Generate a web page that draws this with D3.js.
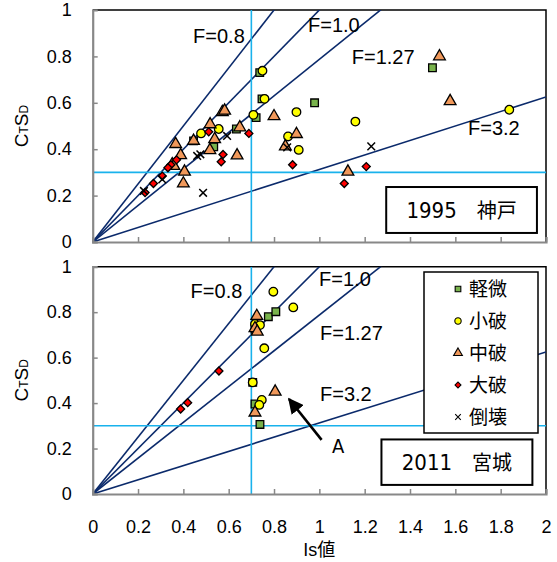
<!DOCTYPE html>
<html>
<head>
<meta charset="utf-8">
<script src="https://cdn.jsdelivr.net/npm/d3@7"></script>
<style>
body { margin: 0; background: #fff; }
text { font-family: "Liberation Sans", Arial, sans-serif; fill: #000; }
.jp { font-family: "Noto Sans CJK JP", sans-serif; }
.narrow { font-family: "Liberation Sans Narrow", "DejaVu Sans Condensed", "Liberation Sans", sans-serif; }
</style>
</head>
<body>
<div id="chart"></div>
<script>
// ticks and reference lines
var xTicks = [0, 0.2, 0.4, 0.6, 0.8, 1, 1.2, 1.4, 1.6, 1.8, 2];
var yTicks = [0, 0.2, 0.4, 0.6, 0.8, 1];
var fValues = [0.8, 1.0, 1.27, 3.2];
var fNames = ["F=0.8", "F=1.0", "F=1.27", "F=3.2"];
var isLimit = 0.7, ctsdLimit = 0.3;
var categories = ["軽微", "小破", "中破", "大破", "倒壊"];

// 1995 神戸  [Is, CtSd]
var kobeKeibi = [[0.737, 0.73], [0.747, 0.617], [0.979, 0.60], [0.721, 0.536], [1.499, 0.751],
    [0.445, 0.436], [0.634, 0.487], [0.534, 0.41]];
var kobeShoha = [[0.749, 0.738], [0.758, 0.617], [0.709, 0.548], [0.899, 0.56], [1.159, 0.519],
    [1.838, 0.57], [0.862, 0.455], [0.909, 0.397], [0.478, 0.468], [0.556, 0.487]];
var kobeChuha = [[1.53, 0.80], [1.577, 0.607], [0.80, 0.542], [0.899, 0.465], [0.85, 0.412],
    [1.126, 0.303], [0.572, 0.56], [0.582, 0.566], [0.518, 0.507], [0.445, 0.436], [0.538, 0.443],
    [0.649, 0.494], [0.366, 0.422], [0.388, 0.374], [0.517, 0.396], [0.637, 0.373], [0.351, 0.335],
    [0.358, 0.328], [0.405, 0.303], [0.40, 0.252]];
var kobeDaiha = [[0.512, 0.475], [0.689, 0.468], [0.575, 0.377], [0.567, 0.346], [0.37, 0.354],
    [0.345, 0.333], [0.332, 0.32], [0.307, 0.284], [0.268, 0.252], [0.231, 0.213], [0.882, 0.333],
    [1.207, 0.325], [1.11, 0.252]];
var kobeTokai = [[0.593, 0.457], [0.461, 0.371], [0.475, 0.378], [0.307, 0.27], [0.226, 0.22],
    [0.487, 0.212], [0.858, 0.408], [1.229, 0.412]];

// 2011 宮城
var miyagiKeibi = [[0.775, 0.78], [0.808, 0.802], [0.706, 0.491], [0.716, 0.396], [0.738, 0.306],
    [0.716, 0.725]];
var miyagiShoha = [[0.797, 0.89], [0.885, 0.821], [0.716, 0.748], [0.738, 0.743], [0.757, 0.641],
    [0.706, 0.491], [0.746, 0.414], [0.735, 0.392]];
var miyagiChuha = [[0.724, 0.783], [0.716, 0.729], [0.726, 0.714], [0.805, 0.45], [0.716, 0.358]];
var miyagiDaiha = [[0.557, 0.541], [0.419, 0.402], [0.388, 0.374]];
var miyagiTokai = [];

var W = 557, H = 562;
var x0 = 92.7, x1 = 546;

var panels = [
    { top: 10, bottom: 242, title: "1995\u3000神戸",
      series: [kobeKeibi, kobeShoha, kobeChuha, kobeDaiha, kobeTokai],
      fLabelPos: [[0.443, 0.858], [0.95, 0.906], [1.143, 0.767], [1.656, 0.461]],
      box: [1.295, 0.237, 1.96, 0.039], xLabels: false },
    { top: 266.7, bottom: 494, title: "2011\u3000宮城",
      series: [miyagiKeibi, miyagiShoha, miyagiChuha, miyagiDaiha, miyagiTokai],
      fLabelPos: [[0.432, 0.864], [0.999, 0.915], [1.003, 0.678], [1.003, 0.41]],
      box: [1.274, 0.24, 1.94, 0.04], xLabels: true }
];

var timesSymbol = d3.symbolTimes || {
    draw: function (ctx, size) {
        var r = Math.sqrt(size) / 2;
        ctx.moveTo(-r, -r); ctx.lineTo(r, r);
        ctx.moveTo(-r, r); ctx.lineTo(r, -r);
    }
};

var markerStyle = [
    { type: d3.symbolSquare, size: 58, fill: "#79B34C", rotate: 0 },
    { type: d3.symbolCircle, size: 58, fill: "#FFFF00", rotate: 0 },
    { type: d3.symbolTriangle, size: 60, fill: "#F0985A", rotate: 0 },
    { type: d3.symbolSquare, size: 32, fill: "#FF0000", rotate: 45 },
    { type: timesSymbol, size: 40, fill: "none", rotate: 0, cross: true }
];

var svg = d3.select("#chart").append("svg")
    .attr("width", W)
    .attr("height", H);

var xScale = d3.scaleLinear().domain([0, 2]).range([x0, x1]);

panels.forEach(function (p, pi) {
    var yScale = d3.scaleLinear().domain([0, 1]).range([p.bottom, p.top]);
    var g = svg.append("g");

    var clipId = "clip" + pi;
    g.append("clipPath").attr("id", clipId)
        .append("rect")
        .attr("x", x0).attr("y", p.top)
        .attr("width", x1 - x0).attr("height", p.bottom - p.top);

    // frame top / right
    g.append("path")
        .attr("d", "M" + x0 + "," + p.top + "H" + x1 + "V" + p.bottom)
        .attr("fill", "none").attr("stroke", "#000").attr("stroke-width", 1.5);

    // F lines
    var lines = g.append("g").attr("clip-path", "url(#" + clipId + ")");
    lines.selectAll("line.f").data(fValues).enter().append("line")
        .attr("x1", xScale(0)).attr("y1", yScale(0))
        .attr("x2", xScale(2)).attr("y2", function (f) { return yScale(2 / f); })
        .attr("stroke", "#0B2A6B").attr("stroke-width", 1.6);

    // criteria lines
    lines.append("line")
        .attr("x1", xScale(isLimit)).attr("x2", xScale(isLimit))
        .attr("y1", yScale(0)).attr("y2", yScale(1))
        .attr("stroke", "#19B2EC").attr("stroke-width", 1.6);
    lines.append("line")
        .attr("x1", xScale(0)).attr("x2", xScale(2))
        .attr("y1", yScale(ctsdLimit)).attr("y2", yScale(ctsdLimit))
        .attr("stroke", "#19B2EC").attr("stroke-width", 1.6);

    // F labels
    g.selectAll("text.flab").data(fNames).enter().append("text")
        .attr("class", "flab")
        .attr("x", function (d, i) { return xScale(p.fLabelPos[i][0]); })
        .attr("y", function (d, i) { return yScale(p.fLabelPos[i][1]); })
        .attr("font-size", 20)
        .text(function (d) { return d; });

    // axes
    var yAxis = d3.axisLeft(yScale).tickValues(yTicks).tickSize(-5).tickPadding(21)
        .tickFormat(d3.format("~g"));
    var yg = g.append("g").attr("transform", "translate(" + x0 + ",0)").call(yAxis);
    var xAxis = d3.axisBottom(xScale).tickValues(xTicks).tickSize(-5).tickPadding(26)
        .tickFormat(d3.format("~g"));
    var xg = g.append("g").attr("transform", "translate(0," + p.bottom + ")").call(xAxis);
    [yg, xg].forEach(function (a) {
        a.select(".domain").attr("stroke", "#888").attr("stroke-width", 2.2);
        a.selectAll(".tick line").attr("stroke", "#888").attr("stroke-width", 1.5);
        a.selectAll("text").attr("font-size", 18)
            .attr("font-family", "'Liberation Sans', Arial, sans-serif").attr("fill", "#000");
    });
    yg.selectAll(".tick").filter(function (d) { return d === 1; }).select("line").remove();
    if (!p.xLabels) xg.selectAll(".tick text").remove();

    // points, drawn series by series so later categories sit on top
    var pts = g.append("g");
    p.series.forEach(function (s, si) {
        var m = markerStyle[si];
        pts.selectAll("path.s" + si).data(s).enter().append("path")
            .attr("class", "s" + si)
            .attr("d", d3.symbol().type(m.type).size(m.size))
            .attr("transform", function (d) {
                return "translate(" + xScale(d[0]) + "," + yScale(d[1]) + ") rotate(" + m.rotate + ")";
            })
            .attr("fill", m.fill)
            .attr("stroke", "#000")
            .attr("stroke-width", m.cross ? 1.5 : 1.3);
    });

    // title box
    var b = p.box;
    g.append("rect")
        .attr("x", xScale(b[0])).attr("y", yScale(b[1]))
        .attr("width", xScale(b[2]) - xScale(b[0]))
        .attr("height", yScale(b[3]) - yScale(b[1]))
        .attr("fill", "#fff").attr("stroke", "#000").attr("stroke-width", 2);
    var tt = g.append("text")
        .attr("x", (xScale(b[0]) + xScale(b[2])) / 2)
        .attr("y", (yScale(b[1]) + yScale(b[3])) / 2 + 8)
        .attr("text-anchor", "middle");
    var parts = p.title.split("\u3000");
    tt.append("tspan").attr("class", "narrow").attr("font-size", 22).text(parts[0]);
    tt.append("tspan").attr("class", "jp").attr("font-size", 20).attr("dx", 20).text(parts[1]);

    // y axis title CtSd
    var cy = (p.top + p.bottom) / 2;
    var yt = g.append("text")
        .attr("transform", "translate(28," + cy + ") rotate(-90)")
        .attr("text-anchor", "middle");
    yt.append("tspan").attr("font-size", 19).text("C");
    yt.append("tspan").attr("font-size", 12).text("T");
    yt.append("tspan").attr("font-size", 19).text("S");
    yt.append("tspan").attr("font-size", 12).text("D");

    if (pi === 1) {
        // arrow A
        svg.append("defs").append("marker")
            .attr("id", "arrow").attr("viewBox", "0 0 10 10")
            .attr("refX", 9).attr("refY", 5)
            .attr("markerWidth", 6).attr("markerHeight", 6)
            .attr("orient", "auto")
            .append("path").attr("d", "M0,0L10,5L0,10z").attr("fill", "#000");
        g.append("line")
            .attr("x1", xScale(1.01)).attr("y1", yScale(0.238))
            .attr("x2", xScale(0.866)).attr("y2", yScale(0.418))
            .attr("stroke", "#000").attr("stroke-width", 2.6)
            .attr("marker-end", "url(#arrow)");
        g.append("text").attr("class", "narrow")
            .attr("x", xScale(1.083)).attr("y", yScale(0.18))
            .attr("text-anchor", "middle").attr("font-size", 20).text("A");

        // legend
        var lg = g.append("g").attr("transform", "translate(424,272)");
        lg.append("rect").attr("width", 114).attr("height", 161)
            .attr("fill", "#fff").attr("stroke", "#000").attr("stroke-width", 1.5);
        var items = lg.selectAll("g.item").data(categories).enter().append("g")
            .attr("transform", function (d, i) { return "translate(34," + (17 + i * 32) + ")"; });
        items.append("path")
            .attr("d", function (d, i) {
                return d3.symbol().type(markerStyle[i].type).size(markerStyle[i].size * 0.55)();
            })
            .attr("transform", function (d, i) { return "rotate(" + markerStyle[i].rotate + ")"; })
            .attr("fill", function (d, i) { return markerStyle[i].fill; })
            .attr("stroke", "#000").attr("stroke-width", 1.1);
        items.append("text").attr("class", "jp")
            .attr("x", 11).attr("y", 7).attr("font-size", 19)
            .text(function (d) { return d; });

        // x axis title
        var xt = g.append("text")
            .attr("x", (x0 + x1) / 2).attr("y", 556)
            .attr("text-anchor", "middle");
        xt.append("tspan").attr("font-size", 18).text("Is");
        xt.append("tspan").attr("class", "jp").attr("font-size", 18).text("値");
    }
});
</script>
</body>
</html>
